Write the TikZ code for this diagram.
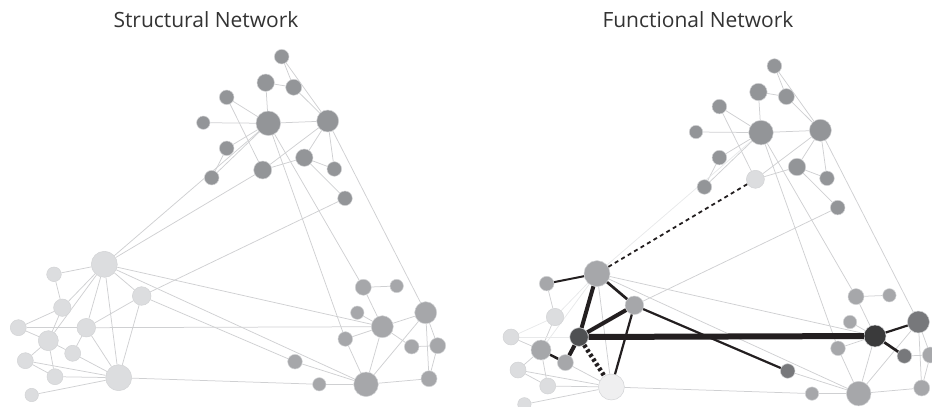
\documentclass[tikz,border=0pt]{standalone}
\usepackage{fontspec}
\setmainfont{Open Sans}
\usetikzlibrary{backgrounds}

\definecolor{topgray}{HTML}{939598}
\definecolor{midgray}{HTML}{A6A7AA}
\definecolor{palegray}{HTML}{DCDDDF}
\definecolor{palest}{HTML}{EFEFF0}
\definecolor{slate}{HTML}{77787B}
\definecolor{darkgray}{HTML}{4F5052}
\definecolor{darkest}{HTML}{3A3A3B}
\definecolor{linkgray}{HTML}{CFD0D2}
\definecolor{fadegray}{HTML}{E8E9EA}
\definecolor{rimgray}{HTML}{D2D3D5}
\definecolor{titlegray}{HTML}{333333}
\definecolor{linkblack}{HTML}{231F20}

\begin{document}
\begin{tikzpicture}[
    x=1pt, y=-1pt,
    dot/.style={circle, draw=rimgray, line width=0.5pt, inner sep=0pt},
    link/.style={draw=linkgray, line width=0.75pt},
    faint/.style={draw=fadegray, line width=0.75pt},
    strong/.style={draw=linkblack, line width=#1},
    dotlink/.style={draw=linkblack, line width=4.5pt, dash pattern=on 3pt off 2.5pt},
    dashlink/.style={draw=linkblack, line width=1.8pt, dash pattern=on 4pt off 3.5pt},
    title/.style={font=\fontsize{21}{25}\selectfont, text=titlegray},
  ]
  \useasboundingbox (0,0) rectangle (932,407);

  % Titles
  \node[title] (stitle) at (206,20) {Structural Network};
  \node[title] (ftitle) at (698,20) {Functional Network};

  % Nodes: name / x / y / radius / structural colour / functional colour
  \foreach \nm/\px/\py/\rad/\cs/\cf in {
      n1/281.7/56.7/7.3/topgray/topgray, n2/265.7/82.7/8.7/topgray/topgray,
      n3/293.7/87.3/8/topgray/topgray, n4/226.7/97.3/7.3/topgray/topgray,
      n5/268.3/123.3/12.3/topgray/topgray, n6/327.7/121/11/topgray/topgray,
      n7/203.3/122.7/6.7/topgray/topgray, n8/226.7/148.3/7.3/topgray/topgray,
      n9/304.3/157.7/8.7/topgray/topgray, n10/334.3/169/7.3/topgray/topgray,
      n11/262.7/170/9/topgray/palegray, n12/211.7/177.7/7.3/topgray/topgray,
      n13/345/198.3/7.3/topgray/topgray,
      m1/104.3/264.3/13/palegray/midgray, m2/54/274.3/7.3/palegray/midgray,
      m3/141.7/296/9.3/palegray/midgray, m4/62.3/307.7/8.7/palegray/palegray,
      m5/18.3/327.7/8/palegray/palegray, m6/86.3/327.7/9.3/palegray/darkgray,
      m7/48.3/340.7/10/palegray/midgray, m8/72.7/353.3/8/palegray/midgray,
      m9/25.3/360.7/8/palegray/palegray, m10/55/376.7/8/palegray/palegray,
      m11/118.7/377.7/13/palegray/palest, m12/31.7/395/6.7/palegray/palegray,
      k1/363.3/287.3/8/midgray/midgray, k2/396.7/286/6.7/midgray/midgray,
      k3/357.3/312.7/6.7/midgray/midgray, k4/382.3/326.7/11/midgray/darkest,
      k5/425.7/312.7/11/midgray/slate, k6/345.3/339/7.3/midgray/midgray,
      k7/411.7/346.7/7.3/midgray/slate, k8/437.7/345.7/8/midgray/midgray,
      k9/295/361.7/7.3/midgray/slate, k10/429/378.7/8/midgray/midgray,
      k11/319.3/384.3/6.7/midgray/midgray, k12/366/384.3/12.3/midgray/midgray} {
    \node[dot, fill=\cs, minimum size=2*\rad] (S\nm) at (\px,\py) {};
    \node[dot, fill=\cf, minimum size=2*\rad] (F\nm) at (\px+492.7,\py+9.3) {};
  }

  \begin{scope}[on background layer]
    % Links shared by both networks
    \foreach \a/\b in {n1/n3, n1/n6, n2/n3, n3/n6, n2/n5, n4/n5, n4/n11, n7/n5,
        n5/n6, n8/n5, n8/n12, n12/n5, n6/n9, n6/n10, n6/n11, n9/n10, n9/n11,
        n9/n13, m3/n13, n5/k1, n5/k6, n6/k5, m1/k4, m1/k12, m11/k11,
        m2/m4, m1/m11, m4/m7, m5/m7, m7/m9, m7/m10, m8/m11, m9/m10, m9/m11,
        m10/m11, m12/m11, k1/k2, k1/k4, k3/k4, k4/k6, k4/k12, k5/k12, k5/k8,
        k5/k10, k7/k8, k8/k10, k6/k12, k10/k12, k11/k12, k9/k12} {
      \draw[link] (S\a) -- (S\b);
      \draw[link] (F\a) -- (F\b);
    }
    % Structural links that change in the functional network
    \foreach \a/\b in {m1/n5, m1/n11, m3/k9, m6/k4, m1/m2, m1/m4, m1/m7, m1/m6,
        m1/m3, m4/m5, m5/m6, m6/m3, m6/m8, m6/m11, m7/m8, m3/m11, k4/k5, k4/k7}
      \draw[link] (S\a) -- (S\b);
    % Faded functional links
    \foreach \a/\b in {m1/n5, m1/m4, m1/m7, m4/m5, m5/m6}
      \draw[faint] (F\a) -- (F\b);
  \end{scope}

  % Strong functional links
  \draw[strong=6pt] (Fm6) -- (Fk4);
  \draw[strong=4pt] (Fm1) -- (Fm6);
  \draw[strong=4pt] (Fm6) -- (Fm3);
  \draw[strong=4pt] (Fm6) -- (Fm8);
  \draw[strong=2.7pt] (Fm1) -- (Fm3);
  \draw[strong=2pt] (Fm1) -- (Fm2);
  \draw[strong=2.5pt] (Fm7) -- (Fm8);
  \draw[strong=2.2pt] (Fm3) -- (Fm11);
  \draw[strong=2.2pt] (Fm3) -- (Fk9);
  \draw[strong=2.2pt] (Fk4) -- (Fk5);
  \draw[strong=2.7pt] (Fk4) -- (Fk7);

  % Dotted and dashed functional links
  \draw[dotlink] (Fm6) -- (Fm11);
  \draw[dashlink] (Fm1) -- (Fn11);
\end{tikzpicture}
\end{document}
